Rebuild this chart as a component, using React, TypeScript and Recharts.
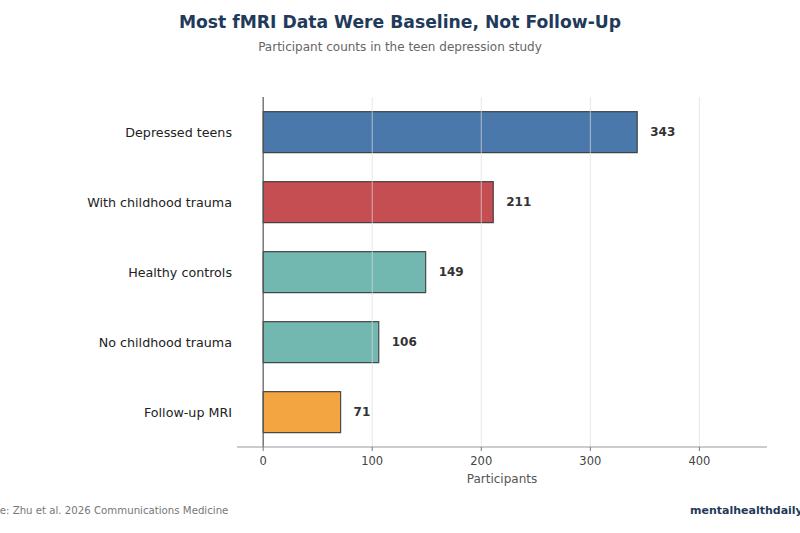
import React from 'react';
import { BarChart, Bar, XAxis, YAxis, Cell, LabelList, ReferenceLine } from 'recharts';

const groups = ['Depressed teens', 'With childhood trauma', 'Healthy controls', 'No childhood trauma', 'Follow-up MRI'];
const counts = [343, 211, 149, 106, 71];
const barColors = ['#4a78aa', '#c44e52', '#72b7b0', '#72b7b0', '#f2a541'];
const xTicks = [0, 100, 200, 300, 400];

const data = groups.map((g, i) => ({ group: g, count: counts[i] }));

const font = '"DejaVu Sans", sans-serif';

export default function App() {
  return (
    <div style={{ position: 'absolute', left: 0, top: 0, width: 800, height: 533, background: '#fff', fontFamily: font, overflow: 'hidden' }}>
      <div style={{ position: 'absolute', top: 12, width: 800, textAlign: 'center', fontSize: 17.2, fontWeight: 'bold', color: '#1f3a5a' }}>
        Most fMRI Data Were Baseline, Not Follow-Up
      </div>
      <div style={{ position: 'absolute', top: 40, width: 800, textAlign: 'center', fontSize: 12, color: '#666' }}>
        Participant counts in the teen depression study
      </div>
      <BarChart
        width={800}
        height={533}
        data={data}
        layout="vertical"
        barCategoryGap="21%"
        margin={{ top: 97, right: 33, bottom: 46, left: 0 }}
      >
        <XAxis
          type="number"
          domain={[-24, 462]}
          ticks={xTicks}
          allowDataOverflow
          height={40}
          tickSize={4}
          tickMargin={6}
          axisLine={{ stroke: '#999' }}
          tickLine={{ stroke: '#777' }}
          tick={{ fontSize: 11.5, fill: '#444', fontFamily: font }}
          label={{ value: 'Participants', position: 'insideBottom', offset: 4, fontSize: 12, fill: '#555', fontFamily: font }}
        />
        <YAxis
          type="category"
          dataKey="group"
          width={237}
          axisLine={false}
          tickLine={false}
          tickMargin={5}
          tick={{ fontSize: 12.7, fill: '#222', fontFamily: font, dx: 6 }}
        />
        <Bar dataKey="count" isAnimationActive={false} stroke="#333" strokeWidth={1.2} strokeOpacity={0.85}>
          {data.map((d, i) => (
            <Cell key={d.group} fill={barColors[i]} />
          ))}
          <LabelList dataKey="count" position="right" offset={13} style={{ fontSize: 12, fontWeight: 'bold', fill: '#333', fontFamily: font }} />
        </Bar>
        {xTicks.filter((t) => t > 0).map((t) => (
          <ReferenceLine key={t} x={t} stroke="#dddddd" strokeOpacity={0.7} strokeWidth={1} />
        ))}
        <ReferenceLine x={0} stroke="#555" strokeWidth={1.2} />
      </BarChart>
      <div style={{ position: 'absolute', top: 505, left: -29, fontSize: 10.2, color: '#777', whiteSpace: 'nowrap' }}>
        Source: Zhu et al. 2026 Communications Medicine
      </div>
      <div style={{ position: 'absolute', top: 504, left: 690, fontSize: 11, fontWeight: 'bold', color: '#1f3a5a', whiteSpace: 'nowrap' }}>
        mentalhealthdaily.com
      </div>
    </div>
  );
}
